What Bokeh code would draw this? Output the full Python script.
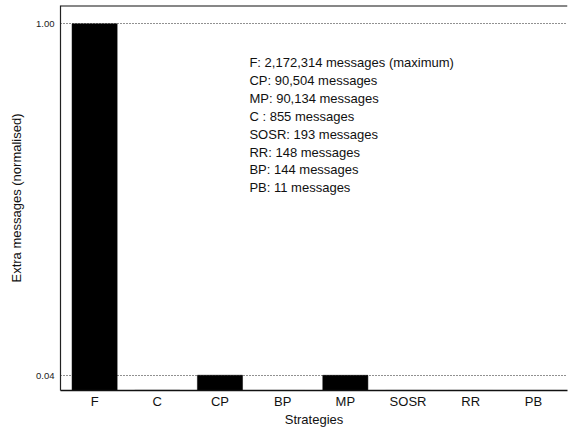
from bokeh.plotting import figure
from bokeh.models import (ColumnDataSource, FactorRange, Range1d, FixedTicker,
                          PrintfTickFormatter, Label, Span)
from bokeh.embed import file_html
from bokeh.resources import INLINE

# ---- data ----
categories = ["F", "C", "CP", "BP", "MP", "SOSR", "RR", "PB"]
messages = [2172314, 855, 90504, 144, 90134, 193, 148, 11]
y_ticks = [0.04, 1.00]
label_order = ["F", "CP", "MP", "C", "SOSR", "RR", "BP", "PB"]

max_msg = max(messages)
normalised = [m / max_msg for m in messages]

FONT = "Liberation Sans"
Y_MAX = 1.05

src = ColumnDataSource(dict(cat=categories, val=normalised))

p = figure(width=568, height=429, output_backend="svg", toolbar_location=None,
           x_range=FactorRange(*categories, range_padding=0.011),
           y_range=Range1d(0, Y_MAX),
           min_border_left=60, min_border_right=1, min_border_top=5,
           min_border_bottom=0)

p.vbar(x="cat", top="val", width=0.72, source=src,
       fill_color="black", line_color="black", line_width=0.5)

p.outline_line_color = None
p.background_fill_color = "white"
p.border_fill_color = "white"

# grid
p.xgrid.grid_line_color = None
p.ygrid.ticker = FixedTicker(ticks=y_ticks)
p.ygrid.grid_line_color = "#222222"
p.ygrid.grid_line_dash = "1 2"
p.ygrid.grid_line_width = 1

# y axis
p.yaxis.ticker = FixedTicker(ticks=y_ticks)
p.yaxis.formatter = PrintfTickFormatter(format="%.2f")
p.yaxis.axis_label = "Extra messages (normalised)"
p.yaxis.axis_label_text_font = FONT
p.yaxis.axis_label_text_font_size = "13px"
p.yaxis.axis_label_text_font_style = "normal"
p.yaxis.axis_label_text_color = "#111111"
p.yaxis.axis_label_standoff = 9
p.yaxis.major_label_text_font = FONT
p.yaxis.major_label_text_font_size = "9.5px"
p.yaxis.major_label_text_color = "#222222"
p.yaxis.major_label_standoff = 6
p.yaxis.major_tick_in = 0
p.yaxis.major_tick_out = 0
p.yaxis.minor_tick_in = 0
p.yaxis.minor_tick_out = 0
p.yaxis.axis_line_color = "#222222"
p.yaxis.axis_line_width = 1.2

# x axis
p.xaxis.axis_label = "Strategies"
p.xaxis.axis_label_text_font = FONT
p.xaxis.axis_label_text_font_size = "13px"
p.xaxis.axis_label_text_font_style = "normal"
p.xaxis.axis_label_text_color = "#111111"
p.xaxis.axis_label_standoff = 0
p.xaxis.major_label_text_font = FONT
p.xaxis.major_label_text_font_size = "13px"
p.xaxis.major_label_text_color = "#111111"
p.xaxis.major_label_standoff = 3
p.xaxis.major_tick_in = 0
p.xaxis.major_tick_out = 0
p.xaxis.axis_line_color = "#111111"
p.xaxis.axis_line_width = 1.5

# top border of the plot frame
p.add_layout(Span(location=Y_MAX, dimension="width",
                  line_color="#111111", line_width=2))

# annotation text built from the data
lookup = dict(zip(categories, messages))
lines = []
for c in label_order:
    sep = " : " if c == "C" else ": "
    extra = " (maximum)" if lookup[c] == max_msg else ""
    lines.append(f"{c}{sep}{lookup[c]:,} messages{extra}")

lbl = Label(x=2.97, y=0.914, text="\n".join(lines),
            text_font=FONT, text_font_size="13px", text_color="#111111",
            text_align="left", text_baseline="top", text_line_height=1.19)
p.add_layout(lbl)

open("out.html", "w").write(file_html(p, INLINE))
